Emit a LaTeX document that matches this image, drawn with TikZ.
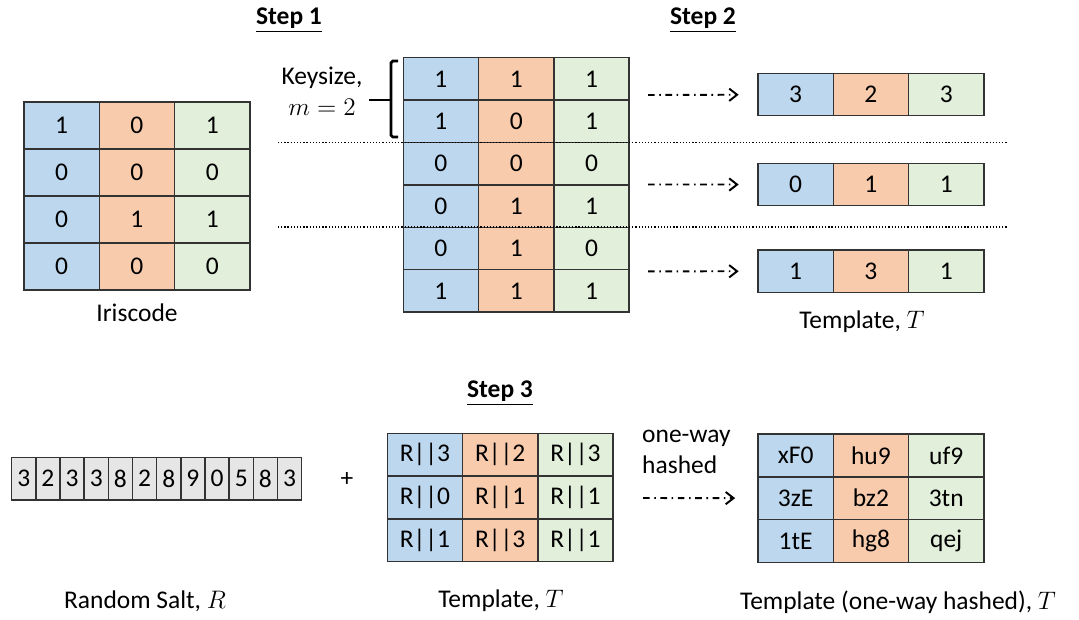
\documentclass[tikz,border=0pt]{standalone}
\usepackage{fontspec}
\setmainfont{Carlito}
\usetikzlibrary{arrows.meta}
\definecolor{irisblue}{HTML}{BDD7EE}
\definecolor{irisorange}{HTML}{F8CBAD}
\definecolor{irisgreen}{HTML}{E2EFDA}
\definecolor{saltgray}{HTML}{E7E6E6}
\tikzset{
	cell/.style={draw=black!80, line width=0.8pt, minimum width=1.506cm, inner sep=0pt, outer sep=0pt, anchor=north west},
	saltcell/.style={draw=black!80, line width=0.8pt, fill=saltgray, minimum width=0.4834cm, minimum height=0.854cm, inner sep=0pt, outer sep=0pt, anchor=north west},
	flow/.style={line width=1.1pt, dash pattern=on 3.8pt off 2.6pt on 0.9pt off 2.6pt, -{Straight Barb[length=4.5pt,width=7pt,line width=1.1pt]}},
	sep/.style={line width=1pt, dash pattern=on 0.7pt off 1.1pt},
	steplabel/.style={font=\fontsize{14.5}{17.6}\selectfont\bfseries}
}
\def\cellrow#1(#2)[#3]#4#5#6{%
	\node[cell, fill=irisblue, minimum height=#3] (#1a) at (#2) {#4};
	\node[cell, fill=irisorange, minimum height=#3] (#1b) at (#1a.north east) {#5};
	\node[cell, fill=irisgreen, minimum height=#3] (#1c) at (#1b.north east) {#6};}

\begin{document}
\begin{tikzpicture}[x=0.02cm, y=-0.02cm, font=\fontsize{14.5}{17.6}\selectfont]
	%%%%% START %%%%%
	\useasboundingbox (0,0) rectangle (1079,619);
	
	\node[steplabel] (step1) at (289,20) {\underline{Step 1}};
	\node[steplabel] (step2) at (703,20) {\underline{Step 2}};
	\node[steplabel] (step3) at (500,393) {\underline{Step 3}};
	
	% iriscode
	\cellrow{ia}(24,102)[0.94cm]{1}{0}{1}
	\cellrow{ib}(24,149)[0.94cm]{0}{0}{0}
	\cellrow{ic}(24,196)[0.94cm]{0}{1}{1}
	\cellrow{id}(24,243)[0.94cm]{0}{0}{0}
	\node (iris) at (137,313) {Iriscode};
	
	% blocks of m rows
	\cellrow{ka}(403.3,57.7)[0.848cm]{1}{1}{1}
	\cellrow{kb}(403.3,100.1)[0.848cm]{1}{0}{1}
	\cellrow{kc}(403.3,142.5)[0.848cm]{0}{0}{0}
	\cellrow{kd}(403.3,184.9)[0.848cm]{0}{1}{1}
	\cellrow{ke}(403.3,227.3)[0.848cm]{0}{1}{0}
	\cellrow{kf}(403.3,269.7)[0.848cm]{1}{1}{1}
	
	\draw[sep] (278,142.5) -- (1008,142.5);
	\draw[sep] (278,227.3) -- (1008,227.3);
	
	\node[align=center] (keysize) at (322,91) {Keysize,\\$m=2$};
	\draw[line width=1.6pt, rounded corners=1pt] (398,61) -- (391,61) -- (391,137) -- (398,137);
	\draw[line width=1.6pt] (369,100) -- (391,100);
	
	% template rows
	\cellrow{ta}(758,73.3)[0.85cm]{3}{2}{3}
	\cellrow{tb}(758,163.3)[0.85cm]{0}{1}{1}
	\cellrow{tc}(758,250)[0.85cm]{1}{3}{1}
	\node (templ) at (862,322) {Template, $T$};
	
	\coordinate (fa) at (648,95);
	\coordinate (fb) at (648,184.5);
	\coordinate (fc) at (648,271.3);
	\draw[flow, shorten >=11pt] (fa) -- (taa);
	\draw[flow, shorten >=11pt] (fb) -- (tba);
	\draw[flow, shorten >=11pt] (fc) -- (tca);
	
	% random salt
	\node[saltcell] (s1) at (11.7,457.3) {3};
	\node[saltcell] (s2) at (s1.north east) {2};
	\node[saltcell] (s3) at (s2.north east) {3};
	\node[saltcell] (s4) at (s3.north east) {3};
	\node[saltcell] (s5) at (s4.north east) {8};
	\node[saltcell] (s6) at (s5.north east) {2};
	\node[saltcell] (s7) at (s6.north east) {8};
	\node[saltcell] (s8) at (s7.north east) {9};
	\node[saltcell] (s9) at (s8.north east) {0};
	\node[saltcell] (s10) at (s9.north east) {5};
	\node[saltcell] (s11) at (s10.north east) {8};
	\node[saltcell] (s12) at (s11.north east) {3};
	\node (salt) at (145,601) {Random Salt, $R$};
	\node (plus) at (347,479) {+};
	
	% salted template
	\cellrow{ra}(387.3,433.3)[0.856cm]{R||3}{R||2}{R||3}
	\cellrow{rb}(387.3,476.1)[0.856cm]{R||0}{R||1}{R||1}
	\cellrow{rc}(387.3,518.9)[0.856cm]{R||1}{R||3}{R||1}
	\node (salted) at (501,601) {Template, $T$};
	
	% hashed template
	\cellrow{ha}(758,434)[0.856cm]{xF0}{hu9}{uf9}
	\cellrow{hb}(758,476.8)[0.856cm]{3zE}{bz2}{3tn}
	\cellrow{hc}(758,519.6)[0.856cm]{1tE}{hg8}{qej}
	\node (hashed) at (898,602) {Template (one-way hashed), $T$};
	
	\node[align=left, anchor=west] (oneway) at (636,452) {one-way\\hashed};
	\coordinate (fh) at (643,498);
	\draw[flow, shorten >=13pt] (fh) -- (hba);
	
	%%%%% END %%%%%
\end{tikzpicture}
\end{document}
